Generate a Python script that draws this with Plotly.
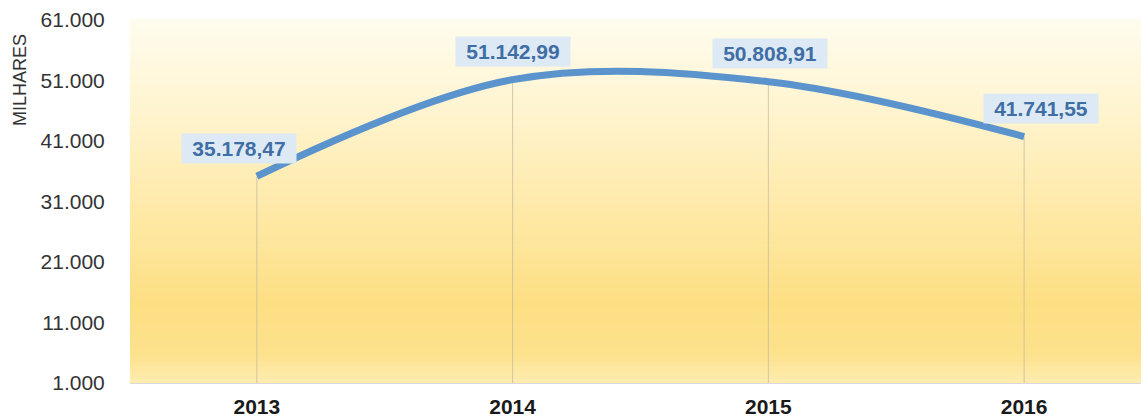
import plotly.graph_objects as go

years = ["2013", "2014", "2015", "2016"]
values = [35178.47, 51142.99, 50808.91, 41741.55]
labels = ["35.178,47", "51.142,99", "50.808,91", "41.741,55"]
label_xshift = [-18, 0, 2, 17]
y_ticks = [1000, 11000, 21000, 31000, 41000, 51000, 61000]
y_ticktext = ["1.000", "11.000", "21.000", "31.000", "41.000", "51.000", "61.000"]

xpos = list(range(len(years)))

# gradient stops (fraction from bottom of plot area, rgb)
grad_stops = [(0.0, (254, 236, 176)), (0.08, (253, 226, 140)), (0.22, (253, 223, 131)),
              (0.55, (254, 236, 178)), (0.80, (255, 246, 214)), (1.0, (255, 252, 238))]

def interp(t):
    for (t0, c0), (t1, c1) in zip(grad_stops[:-1], grad_stops[1:]):
        if t0 <= t <= t1:
            f = (t - t0) / (t1 - t0) if t1 > t0 else 0
            return tuple(round(a + (b - a) * f) for a, b in zip(c0, c1))
    return grad_stops[-1][1]

shapes = []
n = 90
for i in range(n):
    y0 = i / n
    y1 = (i + 1) / n
    r, g, b = interp((y0 + y1) / 2)
    shapes.append(dict(type="rect", xref="paper", yref="paper", x0=0, x1=1, y0=y0, y1=y1 + 0.002,
                       fillcolor=f"rgb({r},{g},{b})", line=dict(width=0), layer="below"))

for xp, v in zip(xpos, values):
    shapes.append(dict(type="line", xref="x", yref="y", x0=xp, x1=xp, y0=y_ticks[0], y1=v,
                       line=dict(color="rgba(195,185,160,0.75)", width=1), layer="below"))

fig = go.Figure()
fig.add_trace(go.Scatter(x=xpos, y=values, mode="lines",
                         line=dict(color="#5B93CD", width=7, shape="spline", smoothing=1.0),
                         hoverinfo="skip", showlegend=False))

annotations = []
for xp, v, lab, xs in zip(xpos, values, labels, label_xshift):
    annotations.append(dict(x=xp, y=v, xref="x", yref="y", text=f"<b>{lab}</b>", showarrow=False,
                            xshift=xs, yshift=28, bgcolor="#DDE9F4", borderpad=3,
                            width=108, height=23,
                            font=dict(family="Liberation Sans, Arial", size=21, color="#3F6EA5")))
annotations.append(dict(x=-0.1088, y=0.835, xref="paper", yref="paper", xanchor="center", yanchor="middle",
                        text="MILHARES", textangle=-90,
                        showarrow=False, font=dict(family="Liberation Sans, Arial", size=18, color="#333333")))

fig.update_layout(
    width=1141, height=417,
    margin=dict(l=130, r=0, t=20, b=34),
    paper_bgcolor="white", plot_bgcolor="rgba(0,0,0,0)",
    shapes=shapes, annotations=annotations,
    xaxis=dict(range=[-0.496, 3.457], showgrid=False, zeroline=False,
               showline=True, linecolor="#D9D9D9", linewidth=1,
               ticks="outside", ticklen=5, tickcolor="rgba(0,0,0,0)",
               tickfont=dict(family="Liberation Sans, Arial", size=21, color="#1a1a1a"),
               tickvals=xpos, ticktext=[f"<b>{y}</b>" for y in years]),
    yaxis=dict(range=[1000, 61000], tickvals=y_ticks, ticktext=y_ticktext, showgrid=False,
               zeroline=False, showline=False, ticks="outside", ticklen=20,
               tickcolor="rgba(0,0,0,0)",
               tickfont=dict(family="Liberation Sans, Arial", size=21, color="#333333")),
)

fig.write_html("out.html")
